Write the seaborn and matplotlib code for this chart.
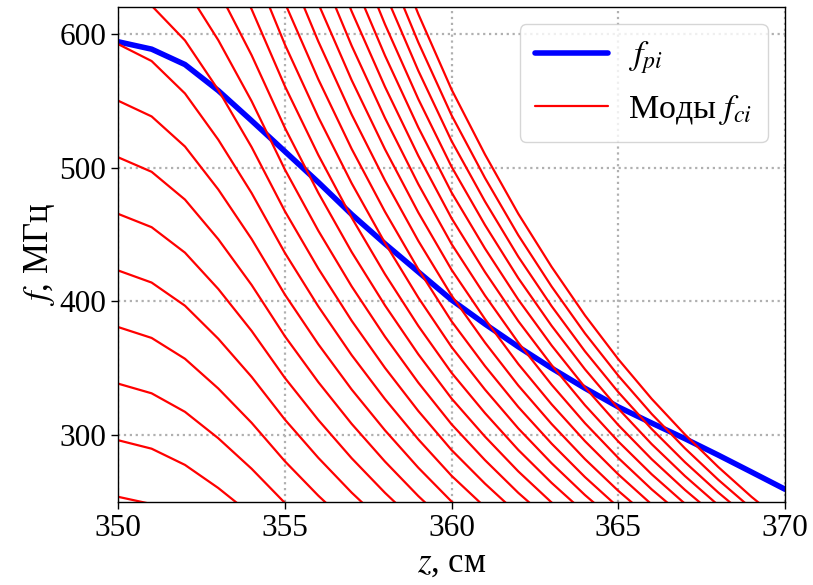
import numpy as np
import pandas as pd
import matplotlib
matplotlib.use("Agg")
import matplotlib.pyplot as plt
import seaborn as sns
from matplotlib.lines import Line2D

# --- data ---
z = [350, 351, 352, 353, 354, 355, 356, 357, 358, 359, 360,
     361, 362, 363, 364, 365, 366, 367, 368, 369, 370]
# plasma ion frequency f_pi, MHz
f_pi = [594.0, 588.5, 577.0, 557.5, 535.0, 512.0, 489.0, 465.0, 443.0, 422.0, 401.0,
        383.0, 366.0, 350.0, 335.0, 321.0, 309.0, 297.3, 285.0, 272.3, 259.5]
# fundamental ion cyclotron frequency, MHz
f_c1 = [42.3, 41.4, 39.67, 37.2, 34.35, 31.15, 28.3, 25.7, 23.35, 21.2, 19.25,
        17.58, 16.05, 14.68, 13.43, 12.3, 11.28, 10.36, 9.52, 8.75, 8.05]
# harmonic numbers of the modes shown
harmonics = list(range(6, 30))

df_pi = pd.DataFrame({"z": z, "f": f_pi})
rows = []
for n in harmonics:
    for zi, fc in zip(z, f_c1):
        rows.append({"z": zi, "f": n * fc, "n": n})
df_ci = pd.DataFrame(rows)

sns.set_style("ticks")
plt.rcParams["font.family"] = ["Liberation Serif", "DejaVu Serif"]
plt.rcParams["mathtext.fontset"] = "stix"
for key in ["text.color", "axes.labelcolor", "xtick.color", "ytick.color",
            "axes.edgecolor"]:
    plt.rcParams[key] = "black"

fig = plt.figure(figsize=(8.13, 5.85), dpi=100)
ax = fig.add_axes([0.1455, 0.142, 0.82, 0.846])

sns.lineplot(data=df_pi, x="z", y="f", color="blue", linewidth=4.0, ax=ax,
             estimator=None, sort=False)
sns.lineplot(data=df_ci, x="z", y="f", units="n", estimator=None, color="red",
             linewidth=1.6, ax=ax, sort=False)

ax.set_xlim(350, 370)
ax.set_ylim(250, 620)
ax.set_xticks([350, 355, 360, 365, 370])
ax.set_yticks([300, 400, 500, 600])
ax.grid(True, linestyle=":", color="#b0b0b0", linewidth=1.6)
ax.tick_params(labelsize=22.5, length=5, width=1.0, direction="out",
               colors="black", labelcolor="black")
for s in ax.spines.values():
    s.set_linewidth(1.0)
    s.set_color("black")
ax.set_xlabel("$z$, см", fontsize=25, labelpad=3, color="black")
ax.set_ylabel("$f$, МГц", fontsize=25, labelpad=2, color="black")

handles = [Line2D([0], [0], color="blue", lw=4.0),
           Line2D([0], [0], color="red", lw=1.6)]
leg = ax.legend(handles, ["$f_{pi}$", "Моды $f_{ci}$"], loc="upper right",
                fontsize=24.5, handlelength=2.15, handletextpad=0.6, borderpad=0.45,
                labelspacing=0.5, framealpha=0.8, fancybox=True)
for t in leg.get_texts():
    t.set_color("black")

fig.savefig("out.png", dpi=100)
